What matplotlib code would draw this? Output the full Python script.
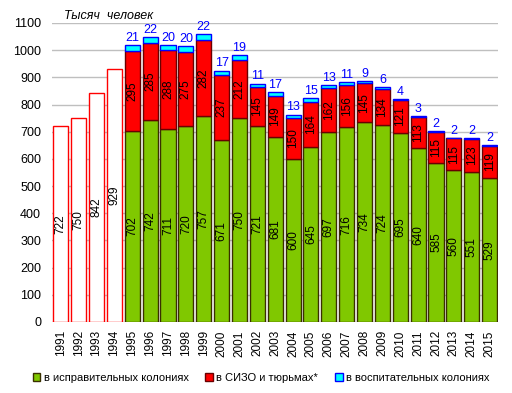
import numpy as np
import matplotlib.pyplot as plt
from matplotlib.patches import Patch

plt.rcParams['font.family'] = ['Liberation Sans', 'DejaVu Sans']

years = [str(y) for y in range(1991, 2016)]
early_total = [722, 750, 842, 929]
green = [702, 742, 711, 720, 757, 671, 750, 721, 681, 600, 645, 697, 716,
         734, 724, 695, 640, 585, 560, 551, 529]
red = [295, 285, 288, 275, 282, 237, 212, 145, 149, 150, 164, 162, 156,
       145, 134, 121, 113, 115, 115, 123, 119]
blue = [21, 22, 20, 20, 22, 17, 19, 11, 17, 13, 15, 13, 11, 9, 6, 4, 3,
        2, 2, 2, 2]

fig = plt.figure(figsize=(5.12, 3.93), dpi=100)
ax = fig.add_axes([0.102, 0.181, 0.871, 0.7605])

w = 0.84
x_early = np.arange(len(early_total))
x_late = np.arange(len(early_total), len(years))
green = np.array(green)
red = np.array(red)
blue = np.array(blue)

ax.bar(x_early, early_total, w, color='white', edgecolor='red', linewidth=1, zorder=3)
ax.bar(x_late, green, w, color='#80c800', edgecolor='#3a3000', linewidth=1, zorder=3)
ax.bar(x_late, red, w, bottom=green, color='#ff0000', edgecolor='#6a0000', linewidth=1, zorder=3)
ax.bar(x_late, blue, w, bottom=green + red, color='#00ffff', edgecolor='#0000ff', linewidth=1, zorder=3)

for xi, v in zip(x_early, early_total):
    ax.text(xi, v / 2, str(v), rotation=90, ha='center', va='center', fontsize=8.5, zorder=4)
for xi, g, r, b in zip(x_late, green, red, blue):
    ax.text(xi, g / 2, str(g), rotation=90, ha='center', va='center', fontsize=8.5, zorder=4)
    ax.text(xi, g + r / 2, str(r), rotation=90, ha='center', va='center', fontsize=8.5, zorder=4)
    ax.text(xi, g + r + b + 4, str(b), ha='center', va='bottom', fontsize=9, color='#0000ff', zorder=4)

ax.set_xlim(-0.48, len(years) - 0.52)
ax.set_ylim(0, 1100)
ax.set_yticks(range(0, 1101, 100))
ax.set_xticks(range(len(years)))
ax.set_xticklabels(years, rotation=90, fontsize=8.5)
ax.tick_params(axis='y', labelsize=9, length=0, pad=8)
ax.tick_params(axis='x', length=0, pad=6)
ax.grid(axis='y', color='#bfbfbf', linewidth=1, zorder=0)
for s in ax.spines.values():
    s.set_visible(False)

ax.text(0.2, 1105, 'Тысяч  человек', fontsize=9, style='italic', va='bottom')

handles = [Patch(facecolor='#80c800', edgecolor='#3a3000', label='в исправительных колониях'),
           Patch(facecolor='#ff0000', edgecolor='#6a0000', label='в СИЗО и тюрьмах*'),
           Patch(facecolor='#00ffff', edgecolor='#0000ff', label='в воспитательных колониях')]
fig.legend(handles=handles, loc='center', bbox_to_anchor=(0.51, 0.038), ncol=3,
           frameon=False, fontsize=8, handlelength=0.7, handleheight=0.7,
           handletextpad=0.3, columnspacing=1.5)

fig.savefig('out.png', dpi=100)
